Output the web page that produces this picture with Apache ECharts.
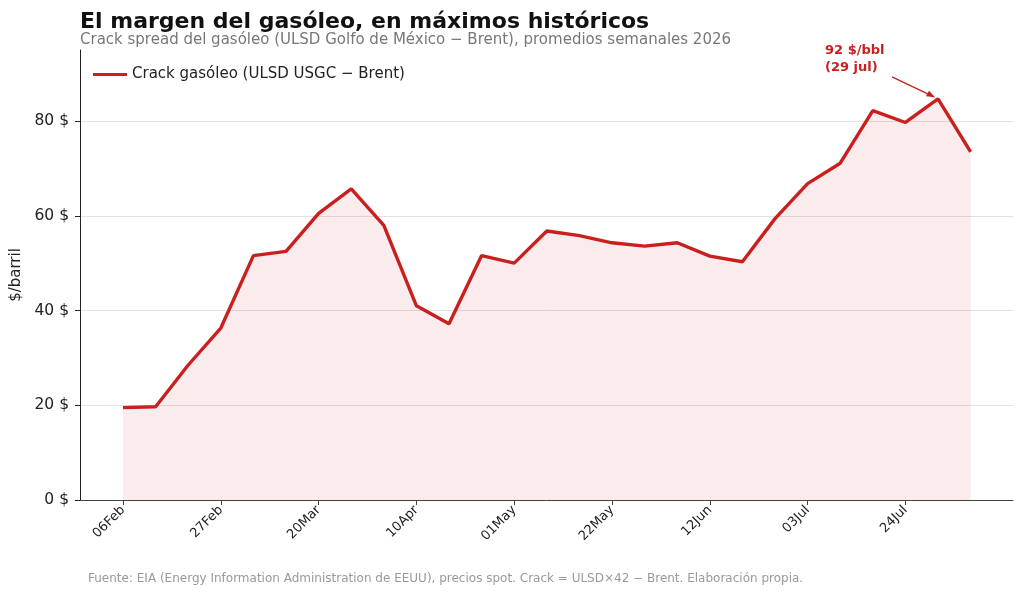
<!DOCTYPE html>
<html>
<head>
<meta charset="utf-8">
<script src="https://cdn.jsdelivr.net/npm/echarts@6/dist/echarts.min.js"></script>
<style>
  html, body { margin: 0; padding: 0; background: #fff; }
  #chart { width: 1024px; height: 596px; }
</style>
</head>
<body>
<div id="chart"></div>
<script>
// semanas (viernes) 2026
const weeks = ["06Feb", "13Feb", "20Feb", "27Feb", "06Mar", "13Mar", "20Mar", "27Mar",
  "03Apr", "10Apr", "17Apr", "24Apr", "01May", "08May", "15May", "22May", "29May",
  "05Jun", "12Jun", "19Jun", "26Jun", "03Jul", "10Jul", "17Jul", "24Jul", "31Jul", "07Aug"];
const crack = [19.5, 19.7, 28.5, 36.3, 51.6, 52.5, 60.5, 65.7, 58.0, 41.0, 37.2,
  51.6, 50.0, 56.8, 55.8, 54.3, 53.6, 54.3, 51.5, 50.3, 59.4, 66.8, 71.1,
  82.2, 79.7, 84.7, 73.5];
const labelWeeks = [0, 3, 6, 9, 12, 15, 18, 21, 24];
const yTicks = [0, 20, 40, 60, 80];
const peakIdx = 25;
const peakText = "92 $/bbl\n(29 jul)";

const RED = "#c9201f";
const FONT = "DejaVu Sans";

const chart = echarts.init(document.getElementById("chart"));

const option = {
  animation: false,
  textStyle: { fontFamily: FONT },
  title: [
    {
      text: "El margen del gasóleo, en máximos históricos",
      left: 75, top: 6,
      textStyle: { fontFamily: FONT, fontSize: 22, fontWeight: "bold", color: "#111" }
    },
    {
      text: "Crack spread del gasóleo (ULSD Golfo de México − Brent), promedios semanales 2026",
      left: 75, top: 28,
      textStyle: { fontFamily: FONT, fontSize: 15, fontWeight: "normal", color: "#777" }
    },
    {
      text: "Fuente: EIA (Energy Information Administration de EEUU), precios spot. Crack = ULSD×42 − Brent. Elaboración propia.",
      left: 83, top: 568,
      textStyle: { fontFamily: FONT, fontSize: 12, fontWeight: "normal", color: "#999" }
    }
  ],
  legend: {
    left: 88, top: 62,
    itemWidth: 34, itemHeight: 3, itemGap: 10,
    icon: "rect",
    textStyle: { fontFamily: FONT, fontSize: 15, color: "#222" },
    data: ["Crack gasóleo (ULSD USGC − Brent)"]
  },
  grid: { left: 80, right: 11, top: 50, bottom: 96 },
  xAxis: {
    type: "value",
    min: -1.32,
    max: 27.3,
    splitLine: { show: false },
    axisLine: { show: true, onZero: false, lineStyle: { color: "#444", width: 1 } },
    axisTick: { show: true, customValues: labelWeeks, length: 5, lineStyle: { color: "#444" } },
    axisLabel: {
      customValues: labelWeeks,
      rotate: 45,
      fontFamily: FONT, fontSize: 13, color: "#222", margin: 8,
      formatter: v => weeks[Math.round(v)] || ""
    }
  },
  yAxis: {
    type: "value",
    min: 0, max: 95,
    name: "$/barril",
    nameLocation: "middle",
    nameGap: 55,
    nameTextStyle: { fontFamily: FONT, fontSize: 15, color: "#222" },
    axisLine: { show: true, onZero: false, lineStyle: { color: "#222", width: 1 } },
    axisTick: { show: true, customValues: yTicks, length: 5, lineStyle: { color: "#222" } },
    axisLabel: {
      customValues: yTicks,
      fontFamily: FONT, fontSize: 15.5, color: "#222", margin: 11,
      formatter: v => v + " $"
    },
    splitLine: { show: true, lineStyle: { color: "#e2e2e2", width: 1 } }
  },
  series: [
    {
      name: "Crack gasóleo (ULSD USGC − Brent)",
      type: "line",
      data: crack.map((v, i) => [i, v]),
      showSymbol: false,
      symbol: "none",
      lineStyle: { color: RED, width: 3.4 },
      itemStyle: { color: RED },
      areaStyle: { color: "rgba(201,32,31,0.12)" },
      z: 3
    }
  ]
};

chart.setOption(option);

// anotación del máximo, anclada al punto de datos
const peak = chart.convertToPixel({ gridIndex: 0 }, [peakIdx, crack[peakIdx]]);
chart.setOption({
  graphic: [
    {
      type: "text",
      left: peak[0] - 113, top: peak[1] - 57,
      style: {
        text: peakText,
        fill: RED,
        font: "bold 13px " + FONT,
        lineHeight: 17
      }
    },
    {
      type: "line",
      shape: { x1: peak[0] - 46, y1: peak[1] - 22, x2: peak[0] - 4, y2: peak[1] - 2 },
      style: { stroke: RED, lineWidth: 1.3 }
    },
    {
      type: "polygon",
      shape: {
        points: [
          [peak[0] - 3, peak[1] - 1.5],
          [peak[0] - 12, peak[1] - 2.5],
          [peak[0] - 9, peak[1] - 8]
        ]
      },
      style: { fill: RED }
    }
  ]
});
</script>
</body>
</html>
